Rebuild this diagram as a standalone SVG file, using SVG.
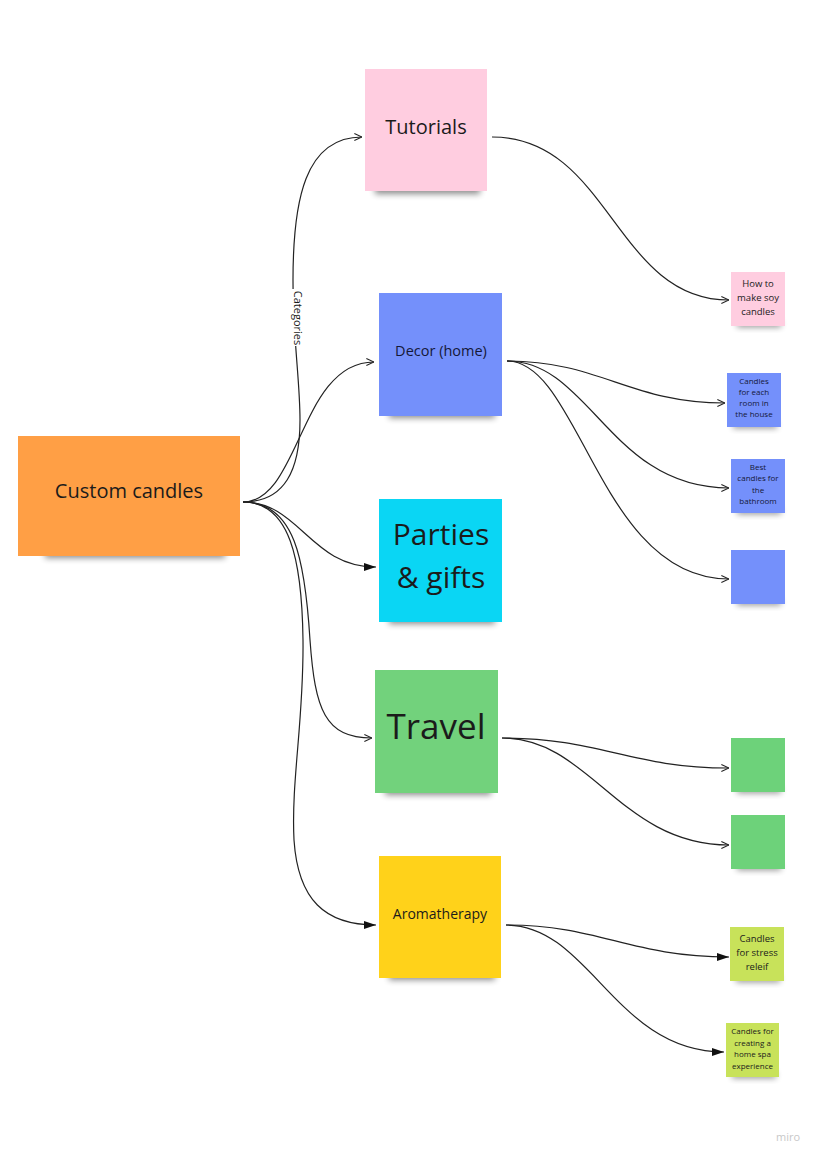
<svg xmlns="http://www.w3.org/2000/svg" width="820" height="1161" viewBox="0 0 820 1161">
<defs>
<style>
.t{font-family:"Open Sans","Noto Sans","Liberation Sans",sans-serif;fill:#1b1b1b;text-anchor:middle}
.c{fill:none;stroke:#222;stroke-width:1.2}
.sh{fill:#000;opacity:0.45;filter:url(#blur)}
</style>
<filter id="blur" x="-20%" y="-100%" width="140%" height="300%"><feGaussianBlur stdDeviation="3"/></filter>
<marker id="open" viewBox="0 0 10 10" refX="9.5" refY="5" markerWidth="9" markerHeight="11" markerUnits="userSpaceOnUse" orient="auto"><path d="M1,1 L9.5,5 L1,9" fill="none" stroke="#222" stroke-width="1.2"/></marker>
<marker id="fill" viewBox="0 0 12 8" refX="12" refY="4" markerWidth="13" markerHeight="8" markerUnits="userSpaceOnUse" orient="auto"><path d="M0,0 L12,4 L0,8 z" fill="#111"/></marker>
</defs>
<rect width="820" height="1161" fill="#ffffff"/>

<g id="connectors">
<path class="c" d="M243,502 C285,502 300,470 300,420 C300,380 293,340 293,280 C293,200 305,137 362,137" marker-end="url(#open)"/>
<path class="c" d="M243,502 C300,502 300,362 374,362" marker-end="url(#open)"/>
<path class="c" d="M243,502 C300,502 310,567 376,567" marker-end="url(#fill)"/>
<path class="c" d="M243,502 C295,502 305,560 310,640 C315,710 325,738 372,738" marker-end="url(#open)"/>
<path class="c" d="M243,502 C290,502 302,560 303,640 C304,720 291,780 294,840 C298,900 325,925 376,925" marker-end="url(#fill)"/>
<path class="c" d="M492,137 C610,137 615,300 729,300" marker-end="url(#open)"/>
<path class="c" d="M507,361 C600,361 630,403 725,403" marker-end="url(#open)"/>
<path class="c" d="M507,361 C590,361 610,488 729,488" marker-end="url(#open)"/>
<path class="c" d="M507,361 C580,361 600,579 729,579" marker-end="url(#open)"/>
<path class="c" d="M502,738 C600,738 630,768 729,768" marker-end="url(#open)"/>
<path class="c" d="M502,738 C590,738 620,845 729,845" marker-end="url(#open)"/>
<path class="c" d="M506,925 C600,925 630,957 729,957" marker-end="url(#fill)"/>
<path class="c" d="M506,925 C590,925 615,1052 724,1052" marker-end="url(#fill)"/>
<rect x="291" y="289" width="14" height="57" fill="#ffffff"/>
<text class="t" x="298" y="318" font-size="11" transform="rotate(90 298 318)" dy="4">Categories</text>
</g>

<g id="custom-candles">
<rect class="sh" x="45" y="548" width="180" height="10"/>
<rect x="18" y="436" width="222" height="120" fill="#ff9f45"/>
<text class="t" x="129" y="498" font-size="20">Custom candles</text>
</g>

<g id="tutorials">
<rect class="sh" x="375" y="184" width="105" height="10"/>
<rect x="365" y="69" width="122" height="122" fill="#ffcde0"/>
<text class="t" x="426" y="134" font-size="20">Tutorials</text>
</g>

<g id="decor">
<rect class="sh" x="389" y="408" width="106" height="10"/>
<rect x="379" y="293" width="123" height="123" fill="#7490fb"/>
<text class="t" x="441" y="356" font-size="14.5" style="fill:#141838">Decor (home)</text>
</g>

<g id="parties">
<rect class="sh" x="389" y="614" width="106" height="10"/>
<rect x="379" y="499" width="123" height="123" fill="#0ad6f4"/>
<text class="t" x="441" y="545" font-size="30">Parties</text>
<text class="t" x="441" y="588" font-size="30">&amp; gifts</text>
</g>

<g id="travel">
<rect class="sh" x="385" y="785" width="106" height="10"/>
<rect x="375" y="670" width="123" height="123" fill="#72d27c"/>
<text class="t" x="436" y="739" font-size="35">Travel</text>
</g>

<g id="aromatherapy">
<rect class="sh" x="389" y="970" width="106" height="10"/>
<rect x="379" y="856" width="122" height="122" fill="#ffd21a"/>
<text class="t" x="440" y="919" font-size="14">Aromatherapy</text>
</g>

<g id="how-to">
<rect class="sh" x="737" y="321" width="44" height="6"/>
<rect x="731" y="272" width="54" height="54" fill="#ffcde0"/>
<text class="t" x="758" y="287" font-size="9.5">How to</text>
<text class="t" x="758" y="301" font-size="9.5">make soy</text>
<text class="t" x="758" y="315" font-size="9.5">candles</text>
</g>

<g id="each-room">
<rect class="sh" x="733" y="422" width="44" height="6"/>
<rect x="727" y="373" width="54" height="54" fill="#7490fb"/>
<text class="t" x="754" y="384" font-size="8" style="fill:#141838">Candles</text>
<text class="t" x="754" y="395" font-size="8" style="fill:#141838">for each</text>
<text class="t" x="754" y="406" font-size="8" style="fill:#141838">room in</text>
<text class="t" x="754" y="417" font-size="8" style="fill:#141838">the house</text>
</g>

<g id="bathroom">
<rect class="sh" x="737" y="508" width="44" height="6"/>
<rect x="731" y="459" width="54" height="54" fill="#7490fb"/>
<text class="t" x="758" y="470" font-size="8" style="fill:#141838">Best</text>
<text class="t" x="758" y="481" font-size="8" style="fill:#141838">candles for</text>
<text class="t" x="758" y="493" font-size="8" style="fill:#141838">the</text>
<text class="t" x="758" y="504" font-size="8" style="fill:#141838">bathroom</text>
</g>

<g id="blue-blank">
<rect class="sh" x="737" y="599" width="44" height="6"/>
<rect x="731" y="550" width="54" height="54" fill="#7490fb"/>
</g>

<g id="green-1">
<rect class="sh" x="737" y="787" width="44" height="6"/>
<rect x="731" y="738" width="54" height="54" fill="#6dd27a"/>
</g>

<g id="green-2">
<rect class="sh" x="737" y="864" width="44" height="6"/>
<rect x="731" y="815" width="54" height="54" fill="#6dd27a"/>
</g>

<g id="stress">
<rect class="sh" x="736" y="976" width="44" height="6"/>
<rect x="730" y="927" width="54" height="54" fill="#c8e25a"/>
<text class="t" x="757" y="942" font-size="9.5">Candles</text>
<text class="t" x="757" y="956" font-size="9.5">for stress</text>
<text class="t" x="757" y="970" font-size="9.5">releif</text>
</g>

<g id="spa">
<rect class="sh" x="732" y="1072" width="44" height="6"/>
<rect x="726" y="1023" width="53" height="54" fill="#c8e25a"/>
<text class="t" x="752.5" y="1034" font-size="8">Candles for</text>
<text class="t" x="752.5" y="1045.5" font-size="8">creating a</text>
<text class="t" x="752.5" y="1057" font-size="8">home spa</text>
<text class="t" x="752.5" y="1068.5" font-size="8">experience</text>
</g>

<text x="788" y="1141" font-family="Open Sans, Liberation Sans, sans-serif" font-size="11" fill="#c8c8c8" text-anchor="middle">miro</text>
</svg>
